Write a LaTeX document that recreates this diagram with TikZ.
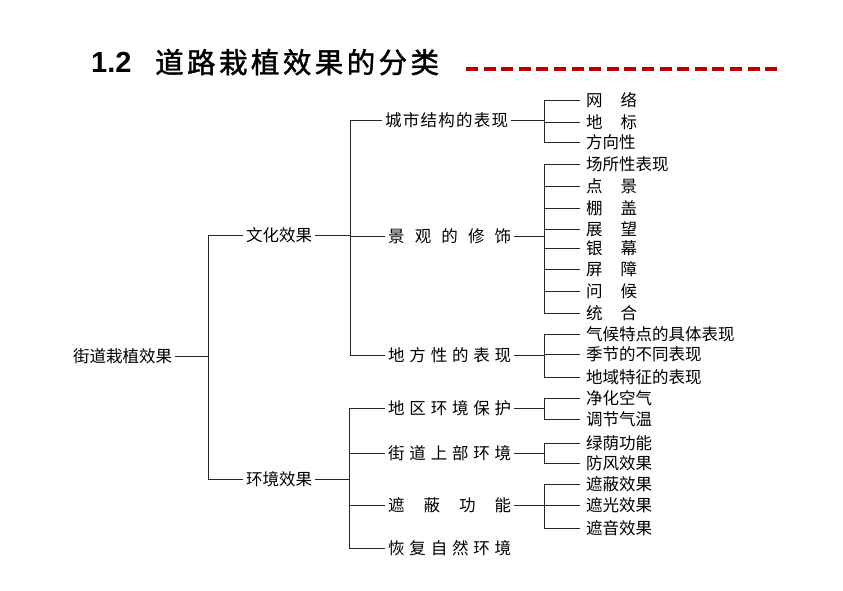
\documentclass[tikz,border=0pt]{standalone}
\usepackage{fontspec}
\setmainfont{Liberation Sans}
\newfontfamily\cjk{Noto Sans CJK SC}
\newfontfamily\cjktitle[FakeBold=1.4,LetterSpace=12]{Noto Sans CJK SC}
\newcommand\spread[1]{\makebox[123pt][s]{#1}}
\newcommand\twochar[2]{\makebox[51pt][s]{#1\hfill#2}}

\begin{document}
\begin{tikzpicture}[x=1pt, y=-1pt,
    every node/.style={font=\cjk\fontsize{16.5}{16.5}\selectfont, inner sep=3pt, anchor=west},
    leaf/.style={inner xsep=6pt},
    link/.style={line width=0.9pt, black!85}]
        \useasboundingbox (0,0) rectangle (843,591);
        % Title and red dashes
        \node[font=\bfseries\fontsize{29}{29}\selectfont, anchor=base west, inner sep=0pt] (num) at (91,73) {1.2};
        \node[font=\cjktitle\fontsize{28.5}{28.5}\selectfont, anchor=base west, inner sep=0pt] (title) at (155,73) {道路栽植效果的分类};
        \draw[red!75!black, line width=3.2pt, dash pattern=on 12pt off 5.6pt] (466,69) -- (782,69);
        % Trunk positions
        \coordinate (jA) at (208,0);
        \coordinate (jB) at (350,0);
        \coordinate (jD) at (349,0);
        \coordinate (jC) at (544,0);
        % Root and first level
        \node (root) at (70,356) {街道栽植效果};
        \node (wh) at (243,235) {文化效果};
        \node (hj) at (243,479) {环境效果};
        \draw[link] (root.east) -- (root.east -| jA);
        \draw[link] (wh.west -| jA) -- (hj.west -| jA);
        \draw[link] (wh.west) -- (wh.west -| jA);
        \draw[link] (hj.west) -- (hj.west -| jA);
        % Second level under 文化效果
        \node (cs) at (382,120) {\spread{城\hfill 市\hfill 结\hfill 构\hfill 的\hfill 表\hfill 现}};
        \node (jg) at (385,236) {\spread{景\hfill 观\hfill 的\hfill 修\hfill 饰}};
        \node (df) at (385,355) {\spread{地\hfill 方\hfill 性\hfill 的\hfill 表\hfill 现}};
        \draw[link] (wh.east) -- (wh.east -| jB);
        \draw[link] (cs.west -| jB) -- (df.west -| jB);
        \foreach \n in {cs,jg,df} {
            \draw[link] (\n.west) -- (\n.west -| jB);
        }
        % Second level under 环境效果
        \node (dq) at (385,408) {\spread{地\hfill 区\hfill 环\hfill 境\hfill 保\hfill 护}};
        \node (jd) at (385,453) {\spread{街\hfill 道\hfill 上\hfill 部\hfill 环\hfill 境}};
        \node (zb) at (385,505) {\spread{遮\hfill 蔽\hfill 功\hfill 能}};
        \node (hf) at (385,548) {\spread{恢\hfill 复\hfill 自\hfill 然\hfill 环\hfill 境}};
        \draw[link] (hj.east) -- (hj.east -| jD);
        \draw[link] (dq.west -| jD) -- (hf.west -| jD);
        \foreach \n in {dq,jd,zb,hf} {
            \draw[link] (\n.west) -- (\n.west -| jD);
        }
        % Leaves: parent / list of y/text
        \foreach \p/\list in {
            cs/{100/{\twochar{网}{络}}, 122/{\twochar{地}{标}}, 142/方向性},
            jg/{164/场所性表现, 186/{\twochar{点}{景}}, 208/{\twochar{棚}{盖}}, 229/{\twochar{展}{望}}, 248/{\twochar{银}{幕}}, 269/{\twochar{屏}{障}}, 291/{\twochar{问}{候}}, 313/{\twochar{统}{合}}},
            df/{334/气候特点的具体表现, 354/季节的不同表现, 377/地域特征的表现},
            dq/{398/净化空气, 419/调节气温},
            jd/{443/绿荫功能, 463/防风效果},
            zb/{484/遮蔽效果, 505/遮光效果, 528/遮音效果}} {
            \draw[link] (\p.east) -- (\p.east -| jC);
            \foreach \y/\t [count=\k, remember=\k as \last (initially 1)] in \list {
                \node[leaf] (\p\k) at (580,\y) {\t};
                \draw[link] (\p\k.west) -- (\p\k.west -| jC);
                \draw[link] (\p\last.west -| jC) -- (\p\k.west -| jC);
            }
        }
    \end{tikzpicture}
\end{document}
